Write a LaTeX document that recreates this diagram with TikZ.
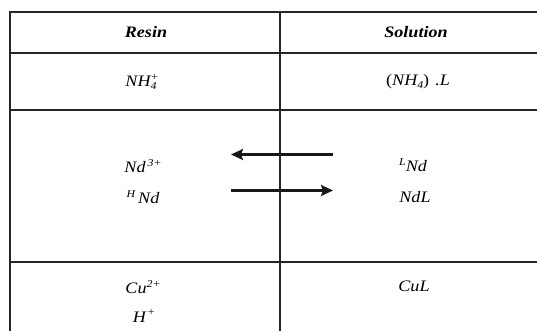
\documentclass[tikz,border=0pt]{standalone}
\usepackage{fontspec}
\setmainfont{Liberation Serif}[FakeStretch=1.13]
\usetikzlibrary{arrows.meta}
\newcommand{\idxfont}{\fontsize{10.5}{10}\selectfont}
\newcommand{\sps}[1]{\raisebox{6.5pt}{\idxfont #1}}
\newcommand{\sbs}[1]{\raisebox{-3pt}{\idxfont #1}}
\newcommand{\spsb}[2]{\raisebox{-3pt}{\idxfont\shortstack[l]{#2\\#1}}}
\tikzset{
  rule/.style={line width=1.2pt,black!85},
  cell/.style={font=\fontsize{16}{18}\selectfont\itshape,inner sep=1pt},
  swap/.style={line width=2.3pt,black!90,-{Stealth[length=12pt,width=11pt,inset=2pt]}}
}
\begin{document}
\begin{tikzpicture}[x=1pt,y=-1pt]
  \useasboundingbox (0,0) rectangle (537,331);
  % table rules
  \draw[rule] (10,331) -- (10,12) -- (537,12);
  \draw[rule] (10,53) -- (537,53);
  \draw[rule] (10,110) -- (537,110);
  \draw[rule] (10,262) -- (537,262);
  \draw[rule] (280,12) -- (280,331);
  % header
  \node[cell] (resin) at (146,32.5) {\bfseries Resin};
  \node[cell] (solution) at (416,32.5) {\bfseries Solution};
  % first row
  \node[cell] (nhres) at (142,82) {NH\spsb{4}{+}};
  \node[cell] (nhsol) at (418,82) {\upshape(\itshape NH\sbs{4}\upshape)\hspace{6pt}\itshape.L};
  % exchange row
  \node[cell] (ndion) at (143,166) {Nd\hspace{2pt}\sps{3+}};
  \node[cell] (ndh) at (143,197) {\sps{H}\hspace{3pt}Nd};
  \node[cell] (ndl) at (413,165) {\sps{L}Nd};
  \node[cell] (ndlig) at (415,197) {NdL};
  \coordinate (upR) at (333,154.5);
  \coordinate (upL) at (231,154.5);
  \coordinate (loL) at (231,190.5);
  \coordinate (loR) at (333,190.5);
  \draw[swap] (upR) -- (upL);
  \draw[swap] (loL) -- (loR);
  % last row
  \node[cell] (cures) at (143,287) {Cu\sps{2+}};
  \node[cell] (hres) at (144,316) {H\hspace{1pt}\sps{+}};
  \node[cell] (cusol) at (414,286) {CuL};
\end{tikzpicture}
\end{document}
